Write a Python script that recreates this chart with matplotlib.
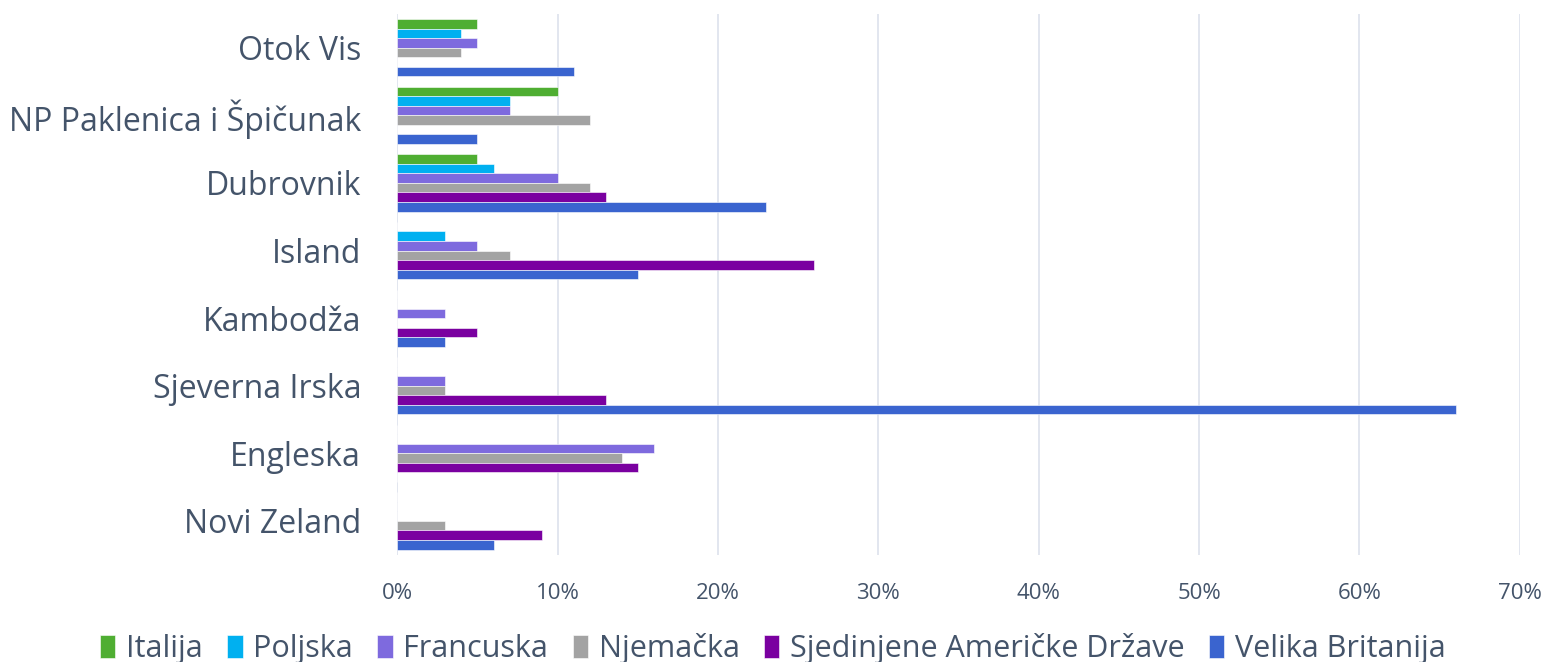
import numpy as np
import matplotlib.pyplot as plt
from matplotlib.ticker import FuncFormatter

# destinations (top to bottom) and share of visitors per country of origin, %
destinations = ['Otok Vis', 'NP Paklenica i Špičunak', 'Dubrovnik', 'Island',
                'Kambodža', 'Sjeverna Irska', 'Engleska', 'Novi Zeland']
italija = [5, 10, 5, 0, 0, 0, 0, 0]
poljska = [4, 7, 6, 3, 0, 0, 0, 0]
francuska = [5, 7, 10, 5, 3, 3, 16, 0]
njemacka = [4, 12, 12, 7, 0, 3, 14, 3]
sad = [0, 0, 13, 26, 5, 13, 15, 9]
vb = [11, 5, 23, 15, 3, 66, 0, 6]

series = [
    ('Italija', italija, '#4fae32'),
    ('Poljska', poljska, '#00b0f0'),
    ('Francuska', francuska, '#7e6ade'),
    ('Njemačka', njemacka, '#a3a3a3'),
    ('Sjedinjene Američke Države', sad, '#7a00a0'),
    ('Velika Britanija', vb, '#3a64cf'),
]

plt.rcParams['font.family'] = ['Open Sans', 'DejaVu Sans']
text_col = '#44546a'

fig = plt.figure(figsize=(15.46, 6.62), dpi=100)
ax = fig.add_axes([0.257, 0.162, 0.726, 0.817])

y = np.arange(len(destinations))
h = 0.141
n = len(series)
for i, (name, vals, col) in enumerate(series):
    off = (i - (n - 1) / 2) * h
    ax.barh(y + off, vals, height=h, color=col, label=name,
            edgecolor='white', linewidth=0.4, zorder=3)

ax.set_ylim(len(destinations) - 0.5, -0.5)
ax.set_xlim(0, 70)
ax.set_xticks(np.arange(0, 71, 10))
ax.xaxis.set_major_formatter(FuncFormatter(lambda v, p: '%d%%' % v))
ax.set_yticks(y)
ax.set_yticklabels(destinations, fontsize=23, color=text_col)
ax.tick_params(axis='x', labelsize=16, labelcolor=text_col, pad=20, length=0)
ax.tick_params(axis='y', length=0, pad=26)

ax.grid(axis='x', color='#dde2ec', linewidth=1.2, zorder=0)
for s in ax.spines.values():
    s.set_visible(False)

fig.legend(loc='lower center', ncol=6, bbox_to_anchor=(0.5, -0.045),
           frameon=False, fontsize=22, labelcolor=text_col,
           handlelength=0.5, handleheight=0.75, handletextpad=0.35,
           columnspacing=0.8)

fig.savefig('out.png', dpi=100)
